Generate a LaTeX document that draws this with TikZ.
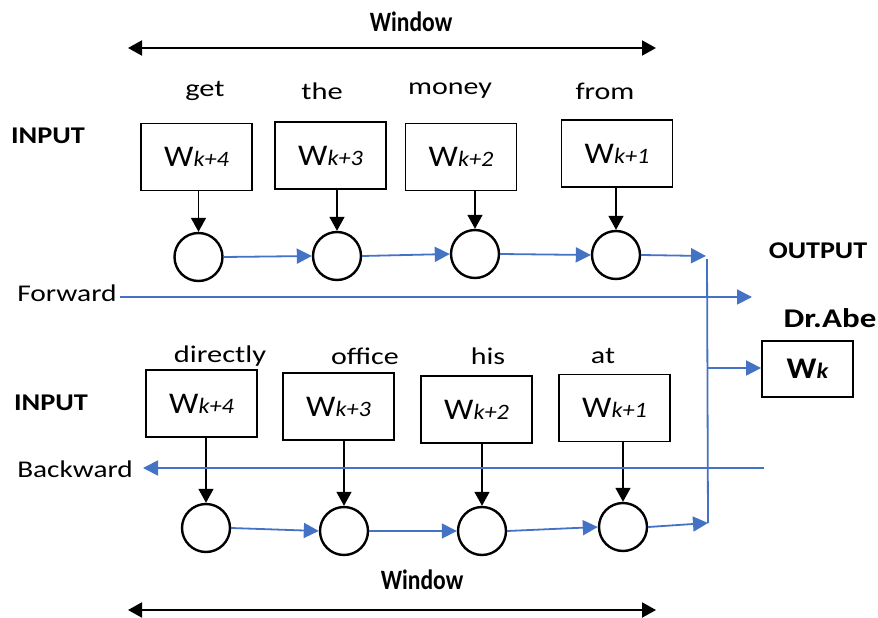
\documentclass[tikz,border=0pt]{standalone}
\usepackage{fontspec}
\setmainfont{Carlito}
\usetikzlibrary{arrows.meta}
\definecolor{lblue}{RGB}{68,114,196}
\newcommand{\hstretch}[2]{\scalebox{#1}[1]{#2}}
\newcommand{\wlab}[1]{\hstretch{1.1}{{\fontsize{30}{30}\selectfont W}{\fontsize{22}{22}\selectfont\itshape #1}}}
\begin{document}
\begin{tikzpicture}[x=1pt,y=-1pt,
  wbox/.style={draw,line width=1.8pt,minimum width=111pt,minimum height=67pt,inner sep=0pt},
  cnode/.style={draw,circle,line width=2.4pt,minimum size=48pt,inner sep=0pt},
  word/.style={font=\fontsize{24}{24}\selectfont},
  btext/.style={font=\fontsize{24}{24}\selectfont\bfseries},
  karrow/.style={-{Triangle[length=14pt,width=15pt]},line width=1.5pt},
  barrow/.style={-{Triangle[length=15pt,width=15pt]},line width=1.8pt,draw=lblue,lblue},
  bline/.style={line width=1.8pt,draw=lblue},
  warrow/.style={{Triangle[length=14pt,width=15pt]}-{Triangle[length=14pt,width=15pt]},line width=2pt}]
\useasboundingbox (0,0) rectangle (878,618);
% window arrows
\node[btext,font=\fontsize{28}{28}\selectfont\bfseries] (wt) at (411,22) {\hstretch{0.84}{Window}};
\coordinate (wtl) at (128,48);
\coordinate (wtr) at (656,48);
\draw[warrow] (wtl) -- (wtr);
\node[btext,font=\fontsize{28}{28}\selectfont\bfseries] (wb) at (422,580) {\hstretch{0.84}{Window}};
\coordinate (wbl) at (128,610);
\coordinate (wbr) at (656,610);
\draw[warrow] (wbl) -- (wbr);
% labels
\node[btext] (in1) at (48,136) {\hstretch{1.18}{INPUT}};
\node[btext] (in2) at (51,403) {\hstretch{1.18}{INPUT}};
\node[btext] (out) at (818,251) {\hstretch{1.17}{OUTPUT}};
\node[btext,font=\fontsize{27}{27}\selectfont\bfseries] (dr) at (830,318) {\hstretch{1.22}{Dr.Abe}};
\node[word] (fw) at (67,293) {\hstretch{1.23}{Forward}};
\node[word] (bw) at (75,469) {\hstretch{1.22}{Backward}};
% top words
\node[word] (t1) at (205,91) {\hstretch{1.27}{get}};
\node[word] (t2) at (322,91) {\hstretch{1.27}{the}};
\node[word] (t3) at (450,91) {\hstretch{1.25}{money}};
\node[word] (t4) at (605,91) {\hstretch{1.25}{from}};
% top boxes
\node[wbox] (tb1) at (196.5,157) {\wlab{k+4}};
\node[wbox] (tb2) at (330.5,155.5) {\wlab{k+3}};
\node[wbox] (tb3) at (461,157) {\wlab{k+2}};
\node[wbox] (tb4) at (617,153.5) {\wlab{k+1}};
% top circles
\node[cnode] (tc1) at (198.5,257) {};
\node[cnode] (tc2) at (337,256) {};
\node[cnode] (tc3) at (475,254) {};
\node[cnode] (tc4) at (616,255) {};
\draw[karrow] (tb1.south -| tc1) -- (tc1.north);
\draw[karrow] (tb2.south -| tc2) -- (tc2.north);
\draw[karrow] (tb3.south -| tc3) -- (tc3.north);
\draw[karrow] (tb4.south -| tc4) -- (tc4.north);
\draw[barrow] (tc1.east) -- (tc2.west);
\draw[barrow] (tc2.east) -- (tc3.west);
\draw[barrow] (tc3.east) -- (tc4.west);
\coordinate (ja) at (706,256);
\draw[barrow] (tc4.east) -- (ja);
% bottom words
\node[word] (b1) at (220,356) {\hstretch{1.27}{directly}};
\node[word] (b2) at (365,356) {\hstretch{1.25}{office}};
\node[word] (b3) at (488,356) {\hstretch{1.25}{his}};
\node[word] (b4) at (603,356) {\hstretch{1.25}{at}};
% bottom boxes
\node[wbox] (bb1) at (201.5,403.5) {\wlab{k+4}};
\node[wbox] (bb2) at (338.5,406.5) {\wlab{k+3}};
\node[wbox] (bb3) at (476.5,409.5) {\wlab{k+2}};
\node[wbox] (bb4) at (614.5,408) {\wlab{k+1}};
% bottom circles
\node[cnode] (bc1) at (206,528) {};
\node[cnode] (bc2) at (344,531) {};
\node[cnode] (bc3) at (482,531) {};
\node[cnode] (bc4) at (623,527) {};
\draw[karrow] (bb1.south -| bc1) -- (bc1.north);
\draw[karrow] (bb2.south -| bc2) -- (bc2.north);
\draw[karrow] (bb3.south -| bc3) -- (bc3.north);
\draw[karrow] (bb4.south -| bc4) -- (bc4.north);
\draw[barrow] (bc1.east) -- (bc2.west);
\draw[barrow] (bc2.east) -- (bc3.west);
\draw[barrow] (bc3.east) -- (bc4.west);
\coordinate (jb) at (708,523);
\draw[barrow] (bc4.east) -- (jb);
% vertical merge line
\coordinate (jt) at (707,259);
\draw[bline] (jt) -- (jb);
% output box
\node[wbox,minimum width=91pt,minimum height=56pt] (wk) at (807.5,369) {\hstretch{1.1}{\bfseries{\fontsize{30}{30}\selectfont W}{\fontsize{22}{22}\selectfont\itshape k}}};
\coordinate (jo) at (707,368);
\draw[barrow] (jo) -- (wk.west |- jo);
% forward / backward lines
\coordinate (fs) at (120,297);
\coordinate (fe) at (752,297);
\draw[barrow] (fs) -- (fe);
\coordinate (bs) at (764,468);
\coordinate (be) at (143,468);
\draw[barrow] (bs) -- (be);
\end{tikzpicture}
\end{document}
